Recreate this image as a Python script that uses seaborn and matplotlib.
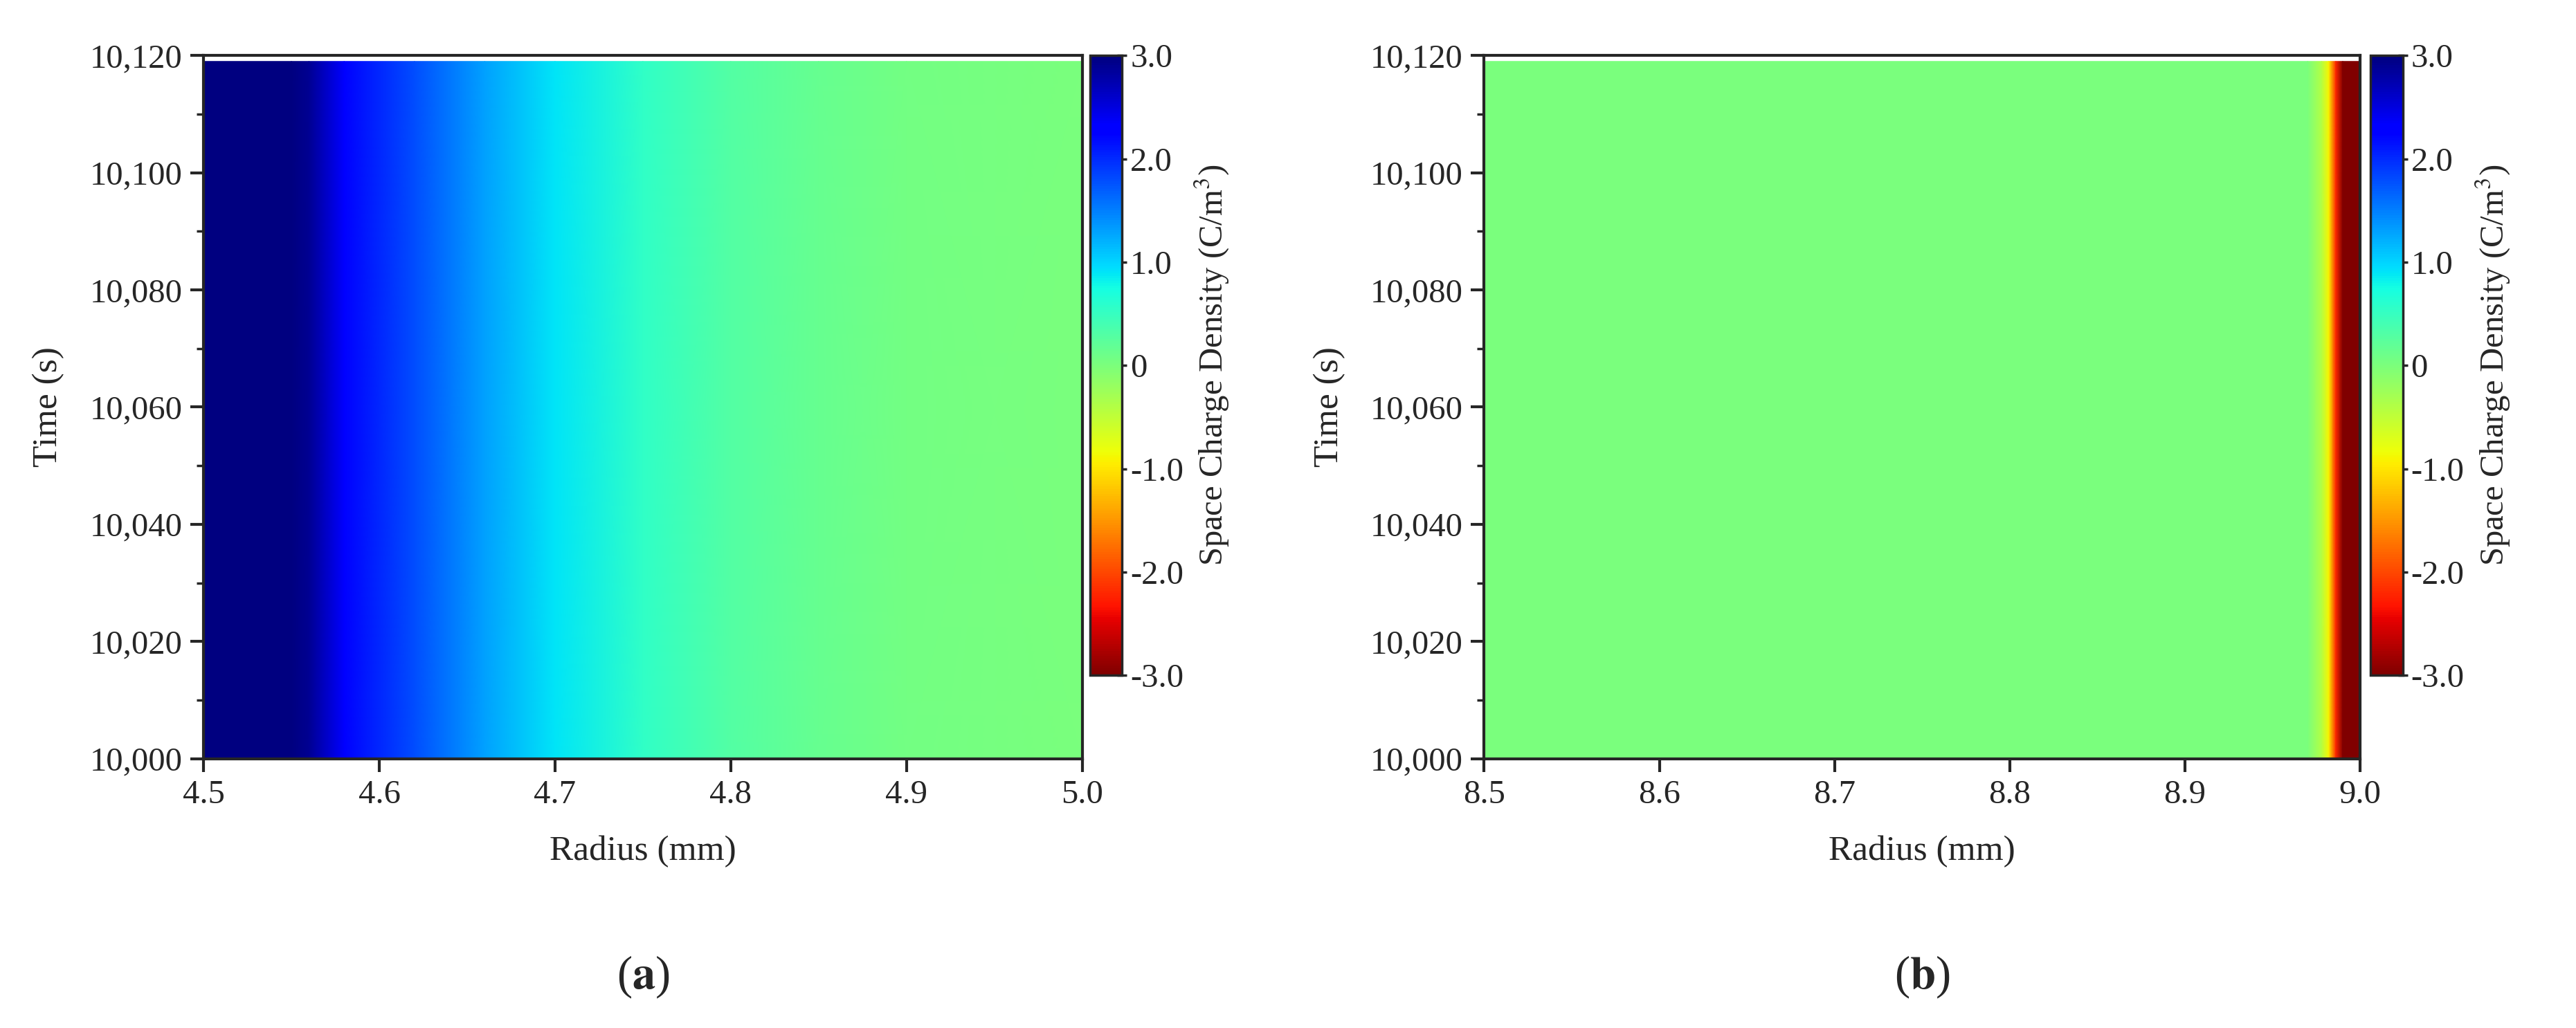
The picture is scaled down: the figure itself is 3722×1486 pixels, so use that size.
import numpy as np
import matplotlib
matplotlib.use("Agg")
import matplotlib.pyplot as plt
import seaborn as sns
from matplotlib.colors import Normalize
from matplotlib.ticker import FuncFormatter, AutoMinorLocator

# === Data ===
time_range = [10000, 10119]
radius_a = [4.50, 4.55, 4.56, 4.58, 4.62, 4.66, 4.70, 4.75, 4.80, 4.85, 4.90, 5.00]
density_a = [3.0, 3.0, 2.9, 2.34, 1.8, 1.3, 0.9, 0.55, 0.3, 0.15, 0.05, 0.0]
radius_b = [8.50, 8.97, 8.978, 8.982, 8.986, 8.99, 9.00]
density_b = [0.0, 0.0, -0.4, -0.9, -2.2, -3.0, -3.0]
cbar_ticks = [3, 2, 1, 0, -1, -2, -3]
cbar_labels = ["3.0", "2.0", "1.0", "0", "-1.0", "-2.0", "-3.0"]

sns.set_style("ticks")
plt.rcParams["font.family"] = ["Liberation Serif", "DejaVu Serif"]
plt.rcParams["mathtext.fontset"] = "stix"

norm = Normalize(vmin=-3, vmax=3)
cmap = plt.get_cmap("jet_r")

fig = plt.figure(figsize=(37.23, 14.86), dpi=100)
panels = [
    (radius_a, density_a, [0.079, 0.262, 0.341, 0.684], [0.423, 0.343, 0.0125, 0.603], "a", [4.5, 4.6, 4.7, 4.8, 4.9, 5.0]),
    (radius_b, density_b, [0.576, 0.262, 0.340, 0.684], [0.920, 0.343, 0.0125, 0.603], "b", [8.5, 8.6, 8.7, 8.8, 8.9, 9.0]),
]

for r, d, ax_pos, cb_pos, tag, xt in panels:
    ax = fig.add_axes(ax_pos)
    X, Y = np.meshgrid(r, time_range)
    Z = np.vstack([d, d])
    mesh = ax.pcolormesh(X, Y, Z, cmap=cmap, norm=norm, shading="gouraud")
    ax.set_xlim(xt[0], xt[-1])
    ax.set_ylim(10000, 10120)
    ax.set_xticks(xt)
    ax.set_xticklabels([f"{v:.1f}" for v in xt])
    ax.set_yticks(range(10000, 10121, 20))
    ax.yaxis.set_major_formatter(FuncFormatter(lambda v, p: f"{int(v):,}"))
    ax.yaxis.set_minor_locator(AutoMinorLocator(2))
    ax.tick_params(axis="both", which="major", labelsize=35, length=14, width=3, pad=8)
    ax.tick_params(axis="y", which="minor", length=7, width=2.5)
    for s in ax.spines.values():
        s.set_linewidth(3)
    ax.set_xlabel("Radius (mm)", fontsize=37, labelpad=26)
    ax.set_ylabel("Time (s)", fontsize=37, labelpad=26)
    ax.text(0.5, -0.31, r"($\mathbf{" + tag + r"}$)", transform=ax.transAxes,
            ha="center", va="center", fontsize=48)

    cax = fig.add_axes(cb_pos)
    cb = fig.colorbar(mesh, cax=cax)
    cb.set_ticks(cbar_ticks)
    cb.set_ticklabels(cbar_labels)
    cb.ax.tick_params(labelsize=35, length=10, width=2.5, direction="inout")
    cb.outline.set_linewidth(2.5)
    cb.set_label("Space Charge Density (C/m$^3$)", fontsize=35, labelpad=10)

fig.savefig("out.png", dpi=100)
